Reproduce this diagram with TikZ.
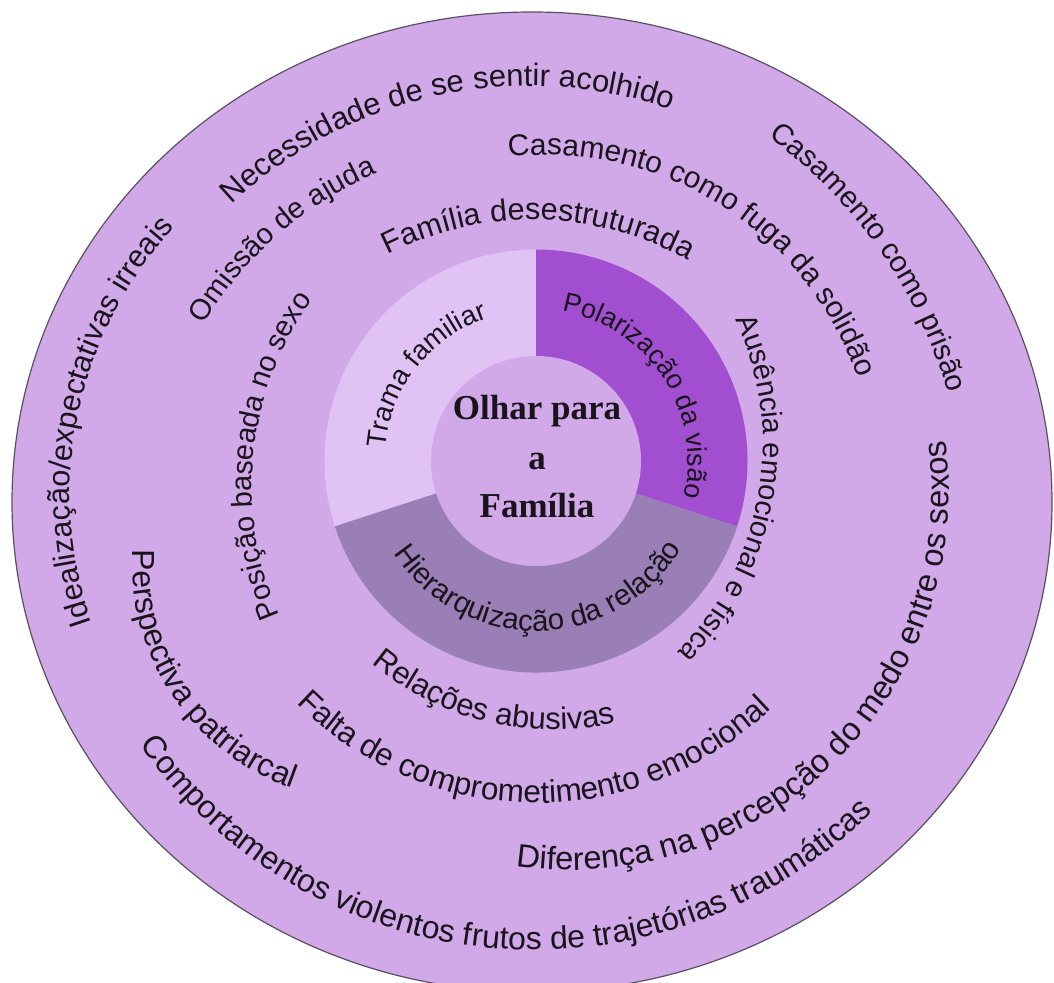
\documentclass[tikz,border=0pt]{standalone}
\usepackage{fontspec}
\setmainfont{Liberation Sans}
\newfontfamily\ctrfont{Liberation Serif}
\usetikzlibrary{decorations.text}
\definecolor{bgp}{RGB}{209,168,232}
\definecolor{tramac}{RGB}{224,194,244}
\definecolor{polc}{RGB}{162,78,208}
\definecolor{hierc}{RGB}{154,126,182}
\definecolor{edgec}{RGB}{90,80,95}
\definecolor{txtc}{RGB}{25,20,28}
\newcommand{\fs}[1]{\fontsize{#1}{#1}\selectfont}
% cx, cy, R, mid angle, dir (1 = clockwise / letters outward, -1 = counterclockwise / letters inward), size, text
\newcommand{\curvedlabel}[7]{%
  \pgfmathsetmacro{\lblsa}{#4+#5*80}%
  \pgfmathsetmacro{\lblea}{#4-#5*80}%
  \path[decorate,decoration={text along path,text align=center,text color=txtc,text={|\fs{#6}|#7}}]
    (#1,#2) ++(\lblsa:#3) arc[start angle=\lblsa,end angle=\lblea,radius=#3];}
\tikzset{
  centertext/.style={anchor=base,text=txtc,font=\ctrfont\bfseries\fs{35}},
  outerdisc/.style={fill=bgp,draw=edgec,line width=1.2},
}
\begin{document}
\begin{tikzpicture}[x=1pt,y=1pt]
\useasboundingbox (0,0) rectangle (1054,982);
\fill[white] (0,0) rectangle (1054,982);
\begin{scope}
\clip (0,0) rectangle (1054,982);
\path[outerdisc] (532,480) ellipse [x radius=520, y radius=490];
\end{scope}
% inner ring
\coordinate (c) at (536,521);
\fill[tramac] (c) -- ++(90:211.5) arc[start angle=90,end angle=198,radius=211.5] -- cycle;
\fill[polc] (c) -- ++(-18:211.5) arc[start angle=-18,end angle=90,radius=211.5] -- cycle;
\fill[hierc] (c) -- ++(198:211.5) arc[start angle=198,end angle=342,radius=211.5] -- cycle;
\fill[bgp] (c) circle[radius=105];
% centre title
\node[centertext] (t1) at (537,562) {Olhar para};
\node[centertext] (t2) at (537,512) {a};
\node[centertext] (t3) at (537,464) {Família};
% ring labels
\curvedlabel{536}{521}{151}{142}{1}{27.5}{Trama familiar}
\curvedlabel{536}{521}{152}{33.3}{1}{27}{Polarização da visão}
\curvedlabel{536}{521}{170}{271}{-1}{29.5}{Hierarquização da relação}
% outer labels
\curvedlabel{533}{442}{320}{89}{1}{30.6}{Família desestruturada}
\curvedlabel{530}{462}{434}{102.2}{1}{31}{Necessidade de se sentir acolhido}
\curvedlabel{518}{473}{364}{131.2}{1}{29}{Omissão de ajuda}
\curvedlabel{461}{488}{391}{168.15}{1}{30.6}{Idealização/expectativas irreais}
\curvedlabel{570}{496}{318}{174.05}{1}{29}{Posição baseada no sexo}
\curvedlabel{466}{538}{297}{-9.9}{1}{29}{Ausência emocional e física}
\curvedlabel{546}{498}{329}{57.6}{1}{30}{Casamento como fuga da solidão}
\curvedlabel{479}{451}{489}{35.05}{1}{29.5}{Casamento como prisão}
\curvedlabel{571}{490}{378}{314.7}{-1}{32.5}{Diferença na percepção do medo entre os sexos}
\curvedlabel{553}{536}{283.5}{256.45}{-1}{31}{Relações abusivas}
\curvedlabel{537}{519}{340}{269.3}{-1}{31.5}{Falta de comprometimento emocional}
\curvedlabel{372}{420}{240}{213.85}{-1}{32}{Perspectiva patriarcal}
\curvedlabel{535}{515}{483}{264.75}{-1}{32}{Comportamentos violentos frutos de trajetórias traumáticas}
\end{tikzpicture}
\end{document}
